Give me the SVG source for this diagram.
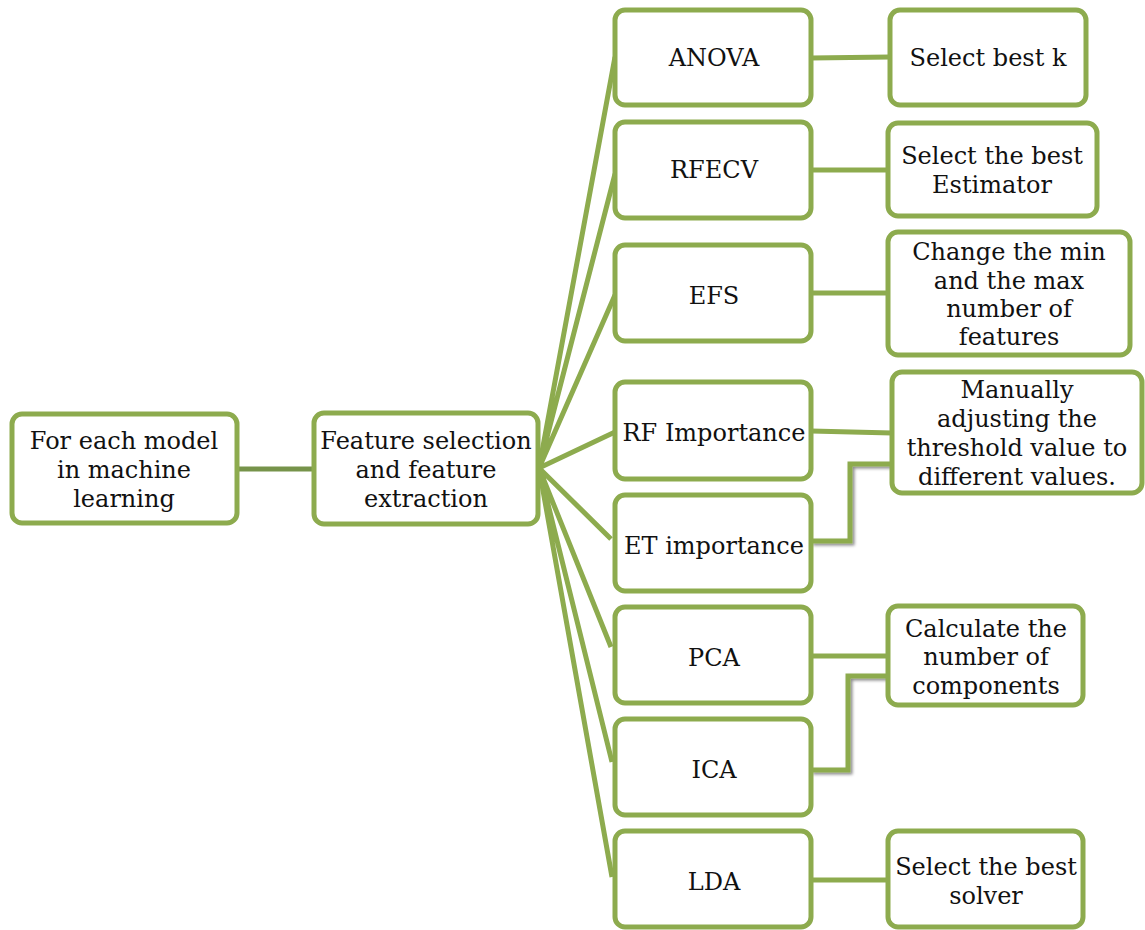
<svg xmlns="http://www.w3.org/2000/svg" width="1145" height="930" viewBox="0 0 1145 930">
  <defs>
    <style>
      .box { fill: #ffffff; stroke: #8dab4e; stroke-width: 5; }
      .link { fill: none; stroke: #8dab4e; stroke-width: 5; }
      .lbl { font-family: "DejaVu Serif", "Liberation Serif", serif; font-size: 24px; fill: #111111; text-anchor: middle; }
    </style>
    <filter id="elbowShadow" x="-20%" y="-20%" width="140%" height="140%">
      <feDropShadow dx="2" dy="2" stdDeviation="1.5" flood-color="#000000" flood-opacity="0.45"/>
    </filter>
  </defs>
  <rect width="1145" height="930" fill="#ffffff"/>

  <!-- connectors -->
  <g id="connectors">
    <line x1="237" y1="469" x2="314" y2="469" stroke="#76934a" stroke-width="5"/>
    <!-- fan from the feature-selection node -->
    <path class="link" d="M539 468 L615 57 M539 468 L615 174 M539 468 L615 295 M539 468 L615 432 M539 468 L611 539 M539 468 L611 647 M539 468 L612 762 M539 468 L612 877"/>
    <!-- method to parameter links -->
    <path class="link" d="M811 58 L890 57 M811 170 L888 170 M811 293 L888 293 M811 431 L892 433 M811 656 L888 656 M811 880 L888 880"/>
    <path class="link" filter="url(#elbowShadow)" d="M811 541 L850 541 L850 464 L892 464"/>
    <path class="link" filter="url(#elbowShadow)" d="M811 770 L848 770 L848 676 L888 676"/>
  </g>

  <g id="n-model">
    <rect class="box" x="12" y="414" width="225" height="109" rx="10"/>
    <text class="lbl" x="124" y="449">For each model</text>
    <text class="lbl" x="124" y="478">in machine</text>
    <text class="lbl" x="124" y="507">learning</text>
  </g>
  <g id="n-feature">
    <rect class="box" x="314" y="413" width="224" height="111" rx="10"/>
    <text class="lbl" x="426" y="449">Feature selection</text>
    <text class="lbl" x="426" y="478">and feature</text>
    <text class="lbl" x="426" y="507">extraction</text>
  </g>

  <g id="n-anova">
    <rect class="box" x="615" y="10" width="196" height="95" rx="10"/>
    <text class="lbl" x="714" y="66">ANOVA</text>
  </g>
  <g id="n-rfecv">
    <rect class="box" x="615" y="122" width="196" height="96" rx="10"/>
    <text class="lbl" x="714" y="178">RFECV</text>
  </g>
  <g id="n-efs">
    <rect class="box" x="615" y="245" width="196" height="96" rx="10"/>
    <text class="lbl" x="714" y="304">EFS</text>
  </g>
  <g id="n-rf">
    <rect class="box" x="615" y="382" width="196" height="97" rx="10"/>
    <text class="lbl" x="714" y="441">RF Importance</text>
  </g>
  <g id="n-et">
    <rect class="box" x="615" y="495" width="196" height="96" rx="10"/>
    <text class="lbl" x="714" y="554">ET importance</text>
  </g>
  <g id="n-pca">
    <rect class="box" x="615" y="607" width="196" height="96" rx="10"/>
    <text class="lbl" x="714" y="666">PCA</text>
  </g>
  <g id="n-ica">
    <rect class="box" x="615" y="719" width="196" height="96" rx="10"/>
    <text class="lbl" x="714" y="778">ICA</text>
  </g>
  <g id="n-lda">
    <rect class="box" x="615" y="831" width="196" height="96" rx="10"/>
    <text class="lbl" x="714" y="890">LDA</text>
  </g>

  <g id="p-bestk">
    <rect class="box" x="890" y="10" width="196" height="95" rx="10"/>
    <text class="lbl" x="988" y="66">Select best k</text>
  </g>
  <g id="p-estimator">
    <rect class="box" x="888" y="123" width="209" height="93" rx="10"/>
    <text class="lbl" x="992" y="164">Select the best</text>
    <text class="lbl" x="992" y="193">Estimator</text>
  </g>
  <g id="p-minmax">
    <rect class="box" x="888" y="232" width="242" height="123" rx="10"/>
    <text class="lbl" x="1009" y="260">Change the min</text>
    <text class="lbl" x="1009" y="289">and the max</text>
    <text class="lbl" x="1009" y="317">number of</text>
    <text class="lbl" x="1009" y="345">features</text>
  </g>
  <g id="p-threshold">
    <rect class="box" x="892" y="372" width="250" height="121" rx="10"/>
    <text class="lbl" x="1017" y="398">Manually</text>
    <text class="lbl" x="1017" y="427">adjusting the</text>
    <text class="lbl" x="1017" y="456">threshold value to</text>
    <text class="lbl" x="1017" y="485">different values.</text>
  </g>
  <g id="p-components">
    <rect class="box" x="888" y="606" width="195" height="99" rx="10"/>
    <text class="lbl" x="986" y="637">Calculate the</text>
    <text class="lbl" x="986" y="665">number of</text>
    <text class="lbl" x="986" y="694">components</text>
  </g>
  <g id="p-solver">
    <rect class="box" x="888" y="831" width="195" height="96" rx="10"/>
    <text class="lbl" x="986" y="875">Select the best</text>
    <text class="lbl" x="986" y="904">solver</text>
  </g>
</svg>
